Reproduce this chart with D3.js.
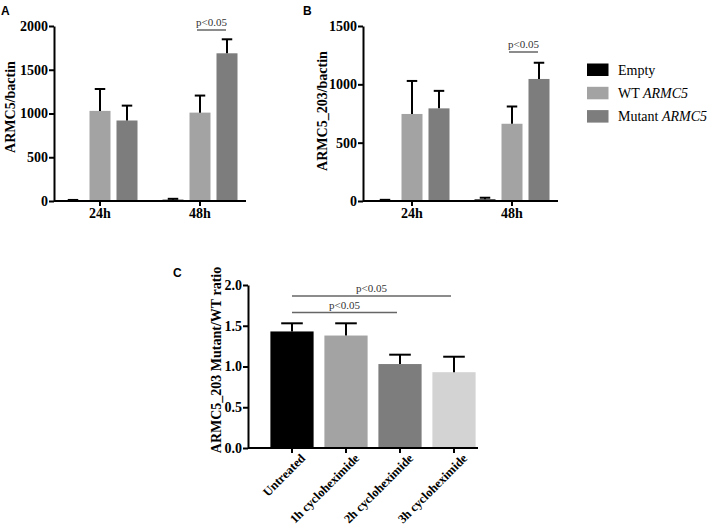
<!DOCTYPE html>
<html>
<head>
<meta charset="utf-8">
<script src="https://cdn.jsdelivr.net/npm/d3@7"></script>
<style>
  html, body { margin: 0; padding: 0; background: #fff; }
  svg text { font-family: "Liberation Serif", "Times New Roman", serif; }
</style>
</head>
<body>
<svg id="chart" width="709" height="530"></svg>
<script>
// ---------- DATA ----------
const groups = ["24h", "48h"];
const series = ["Empty", "WT", "Mutant"];
const seriesColors = ["#000000", "#a3a3a3", "#7d7d7d"];

// Panel A: ARMC5/bactin (mean, upper error)
const aMean = { "24h": [8, 1030, 920], "48h": [15, 1010, 1688] };
const aErr  = { "24h": [4, 250, 170], "48h": [10, 195, 160] };
const aTicks = [0, 500, 1000, 1500, 2000];

// Panel B: ARMC5_203/bactin
const bMean = { "24h": [6, 746, 794], "48h": [14, 662, 1046] };
const bErr  = { "24h": [4, 283, 150], "48h": [14, 148, 139] };
const bTicks = [0, 500, 1000, 1500];

// Panel C: ARMC5_203 Mutant/WT ratio
const cCats = ["Untreated", "1h cycloheximide", "2h cycloheximide", "3h cycloheximide"];
const cMean = [1.43, 1.38, 1.03, 0.93];
const cErr  = [0.10, 0.15, 0.115, 0.19];
const cColors = ["#000000", "#a3a3a3", "#7d7d7d", "#d3d3d3"];
const cTicks = [0.0, 0.5, 1.0, 1.5, 2.0];

const legendLabels = [["Empty", null], ["WT ", "ARMC5"], ["Mutant ", "ARMC5"]];

// ---------- DRAW ----------
const svg = d3.select("#chart");
const tickFont = "14px";

function styleAxis(a) {
  a.attr("font-family", null).attr("font-size", null);
  a.selectAll("path, line").attr("stroke", "#000").attr("stroke-width", 2);
  a.selectAll("text").attr("font-size", tickFont).attr("font-weight", "bold")
    .attr("fill", "#000").style("font-family", '"Liberation Serif", "Times New Roman", serif');
}

function barPanel(opts) {
  const g = svg.append("g");
  const y = d3.scaleLinear().domain([0, opts.ymax]).range([201, 26]);
  const x = d3.scaleBand().domain(groups).range(opts.xr).padding(0);
  const xs = d3.scaleBand().domain(series).range([-40.5, 40.5])
    .paddingInner(6 / 27).paddingOuter(3 / 27);

  groups.forEach(gr => {
    const cx = x(gr) + x.bandwidth() / 2;
    series.forEach((s, i) => {
      const m = opts.mean[gr][i], e = opts.err[gr][i];
      const bx = cx + xs(s);
      const bw = xs.bandwidth();
      g.append("rect").attr("x", bx).attr("width", bw)
        .attr("y", y(m)).attr("height", y(0) - y(m))
        .attr("fill", seriesColors[i]);
      const ex = bx + bw / 2;
      g.append("line").attr("x1", ex).attr("x2", ex)
        .attr("y1", y(m)).attr("y2", y(m + e))
        .attr("stroke", "#000").attr("stroke-width", 2);
      g.append("line").attr("x1", ex - bw / 4).attr("x2", ex + bw / 4)
        .attr("y1", y(m + e)).attr("y2", y(m + e))
        .attr("stroke", "#000").attr("stroke-width", 2);
    });
  });

  const ya = g.append("g").attr("transform", `translate(${opts.yx},0)`)
    .call(d3.axisLeft(y).tickValues(opts.ticks).tickFormat(d3.format("d"))
      .tickSize(5).tickSizeOuter(0).tickPadding(1));
  const xa = g.append("g").attr("transform", `translate(0,${y(0)})`)
    .call(d3.axisBottom(x).tickSize(5).tickSizeOuter(0).tickPadding(2));
  xa.select(".domain").attr("d", `M${opts.yx},0H${opts.xend}`);
  styleAxis(ya); styleAxis(xa);

  g.append("text").attr("transform", `translate(${opts.titleX},${opts.titleY}) rotate(-90)`)
    .attr("text-anchor", "middle").attr("font-size", "14px").attr("font-weight", "bold")
    .text(opts.title);

  g.append("text").attr("x", opts.letterX).attr("y", 15)
    .style("font-family", '"Liberation Sans", Arial, sans-serif')
    .attr("font-size", "12px").attr("font-weight", "bold").text(opts.letter);

  const cx48 = x("48h") + x.bandwidth() / 2;
  const x1 = cx48 + xs("WT") + xs.bandwidth() / 2 - 3;
  const x2 = cx48 + xs("Mutant") + xs.bandwidth() / 2 - 1;
  g.append("line").attr("x1", x1).attr("x2", x2).attr("y1", opts.sigY).attr("y2", opts.sigY)
    .attr("stroke", "#666").attr("stroke-width", 1.5);
  g.append("text").attr("x", (x1 + x2) / 2).attr("y", opts.sigY - 4)
    .attr("text-anchor", "middle").attr("font-size", "11px").attr("fill", "#333")
    .text("p<0.05");
}

barPanel({ ymax: 2000, xr: [50, 250], yx: 54, xend: 246, ticks: aTicks,
  mean: aMean, err: aErr, title: "ARMC5/bactin", titleX: 15, titleY: 107,
  letter: "A", letterX: 1, sigY: 30 });
barPanel({ ymax: 1500, xr: [362, 562], yx: 363, xend: 558, ticks: bTicks,
  mean: bMean, err: bErr, title: "ARMC5_203/bactin", titleX: 327, titleY: 111,
  letter: "B", letterX: 303, sigY: 52 });

// legend
const lg = svg.append("g");
legendLabels.forEach((l, i) => {
  const yy = 63.5 + i * 23.3;
  lg.append("rect").attr("x", 587).attr("y", yy).attr("width", 21.5).attr("height", 12.5)
    .attr("fill", seriesColors[i]);
  const t = lg.append("text").attr("x", 618).attr("y", yy + 11).attr("font-size", "14px");
  t.append("tspan").text(l[0]);
  if (l[1]) t.append("tspan").attr("font-style", "italic").text(l[1]);
});

// Panel C
(function () {
  const g = svg.append("g");
  const y = d3.scaleLinear().domain([0, 2]).range([448, 285]);
  const x = d3.scaleBand().domain(cCats).range([265, 481]).paddingInner(0.2).paddingOuter(0.1);
  cCats.forEach((c, i) => {
    const bx = x(c), bw = x.bandwidth();
    g.append("rect").attr("x", bx).attr("width", bw)
      .attr("y", y(cMean[i])).attr("height", y(0) - y(cMean[i])).attr("fill", cColors[i]);
    const ex = bx + bw / 2;
    const top = y(cMean[i] + cErr[i]);
    g.append("line").attr("x1", ex).attr("x2", ex).attr("y1", y(cMean[i])).attr("y2", top)
      .attr("stroke", "#000").attr("stroke-width", 2);
    g.append("line").attr("x1", ex - bw / 4).attr("x2", ex + bw / 4).attr("y1", top).attr("y2", top)
      .attr("stroke", "#000").attr("stroke-width", 2);
  });
  const ya = g.append("g").attr("transform", "translate(248,0)")
    .call(d3.axisLeft(y).tickValues(cTicks).tickFormat(d3.format(".1f"))
      .tickSize(5).tickSizeOuter(0).tickPadding(1));
  const xa = g.append("g").attr("transform", `translate(0,${y(0)})`)
    .call(d3.axisBottom(x).tickSize(5).tickSizeOuter(0));
  xa.select(".domain").attr("d", "M248,0H478");
  styleAxis(ya); styleAxis(xa);
  xa.selectAll(".tick text").attr("text-anchor", "end").attr("font-size", "12.5px")
    .attr("transform", "translate(5,2) rotate(-45)").attr("dy", "0.7em").attr("y", 4).attr("x", 0);

  g.append("text").attr("transform", "translate(221,360) rotate(-90)")
    .attr("text-anchor", "middle").attr("font-size", "14px").attr("font-weight", "bold")
    .text("ARMC5_203 Mutant/WT ratio");
  g.append("text").attr("x", 173).attr("y", 277)
    .style("font-family", '"Liberation Sans", Arial, sans-serif')
    .attr("font-size", "12px").attr("font-weight", "bold").text("C");

  const c0 = x(cCats[0]) + x.bandwidth() / 2;
  const sigs = [[3, 296], [2, 312.5]];
  sigs.forEach(([j, yy]) => {
    const c1 = x(cCats[j]) + x.bandwidth() / 2 - 3;
    g.append("line").attr("x1", c0).attr("x2", c1).attr("y1", yy).attr("y2", yy)
      .attr("stroke", "#666").attr("stroke-width", 1.5);
    g.append("text").attr("x", (c0 + c1) / 2).attr("y", yy - 4)
      .attr("text-anchor", "middle").attr("font-size", "11px").attr("fill", "#333")
      .text("p<0.05");
  });
})();
</script>
</body>
</html>
